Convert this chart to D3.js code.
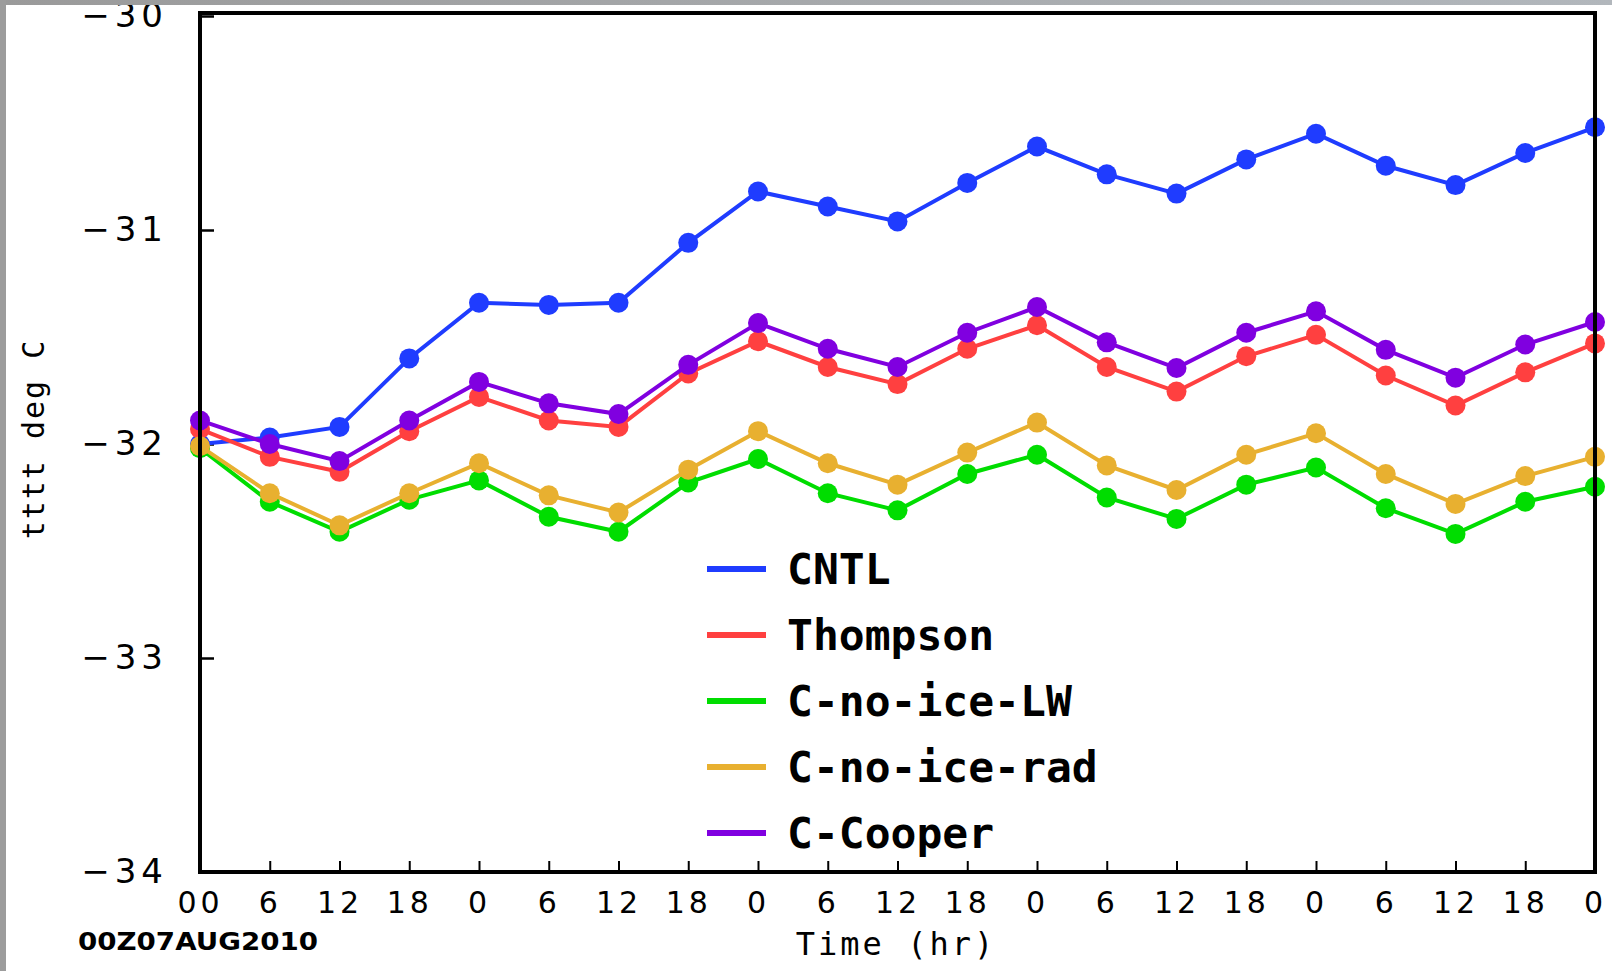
<!DOCTYPE html>
<html>
<head>
<meta charset="utf-8">
<script src="https://cdn.jsdelivr.net/npm/d3@7/dist/d3.min.js"></script>
<style>
  html, body { margin: 0; padding: 0; background: #fff; }
  svg { display: block; }
</style>
</head>
<body>
<svg id="chart" width="1612" height="971"></svg>
<script>
// ---- data ----
const xTickLabels = ["00","6","12","18","0","6","12","18","0","6","12","18","0","6","12","18","0","6","12","18","0"];
const hours = d3.range(0, 121, 6);
const yTicks = [-30, -31, -32, -33, -34];

const seriesNames = ["CNTL", "Thompson", "C-no-ice-LW", "C-no-ice-rad", "C-Cooper"];
const seriesColors = ["#1f3cff", "#ff4040", "#00dd00", "#e8b030", "#8000e0"];

const cntl = [-32.00, -31.97, -31.92, -31.60, -31.34, -31.35, -31.34, -31.06, -30.82, -30.89, -30.96,
              -30.78, -30.61, -30.74, -30.83, -30.67, -30.55, -30.70, -30.79, -30.64, -30.52];
const thompson = [-31.93, -32.06, -32.13, -31.94, -31.78, -31.89, -31.92, -31.67, -31.52, -31.64, -31.72,
                  -31.555, -31.445, -31.64, -31.755, -31.59, -31.49, -31.68, -31.82, -31.665, -31.53];
const noIceLW = [-32.02, -32.27, -32.41, -32.26, -32.17, -32.34, -32.41, -32.18, -32.07, -32.23, -32.31,
                 -32.14, -32.05, -32.25, -32.35, -32.19, -32.11, -32.30, -32.42, -32.27, -32.20];
const noIceRad = [-32.01, -32.23, -32.38, -32.23, -32.09, -32.24, -32.32, -32.12, -31.94, -32.09, -32.19,
                  -32.04, -31.90, -32.10, -32.215, -32.05, -31.95, -32.14, -32.28, -32.15, -32.06];
const cooper = [-31.89, -32.00, -32.08, -31.89, -31.71, -31.81, -31.86, -31.63, -31.435, -31.555, -31.64,
                -31.48, -31.36, -31.525, -31.645, -31.48, -31.38, -31.56, -31.69, -31.535, -31.43];
const seriesValues = [cntl, thompson, noIceLW, noIceRad, cooper];

const yLabel = "tttt deg C";
const xLabel = "Time (hr)";
const dateLabel = "00Z07AUG2010";

// ---- layout ----
const svg = d3.select("#chart");
const L = 200, R = 1595, T = 16, B = 872;

const x = d3.scaleLinear().domain([0, 120]).range([L, R]);
const y = d3.scaleLinear().domain([-34, -30]).range([B, T]);

const FONT = "'DejaVu Sans', sans-serif";
const MONO = "'DejaVu Sans Mono', monospace";

// x axis ticks (inward) and labels
const xAxis = d3.axisBottom(x).tickValues(hours).tickSize(-11).tickPadding(20)
  .tickFormat((d, i) => xTickLabels[i]);
const gx = svg.append("g").attr("transform", `translate(0,${B})`).call(xAxis);
gx.select(".domain").remove();
gx.selectAll(".tick line").attr("stroke", "#000").attr("stroke-width", 2);
gx.selectAll(".tick text").attr("font-family", FONT).attr("font-size", 30)
  .attr("fill", "#000").attr("letter-spacing", 4);

// y axis ticks (inward) and labels
const yAxis = d3.axisLeft(y).tickValues(yTicks).tickSize(-14).tickPadding(30)
  .tickFormat(d => "\u2212" + Math.abs(d));
const gy = svg.append("g").attr("transform", `translate(${L},0)`).call(yAxis);
gy.select(".domain").remove();
gy.selectAll(".tick line").attr("stroke", "#000").attr("stroke-width", 2.5);
gy.selectAll(".tick text").attr("font-family", FONT).attr("font-size", 34)
  .attr("fill", "#000").attr("letter-spacing", 5).attr("x", -32);

// lines and markers
const line = d3.line().x((d, i) => x(hours[i])).y(d => y(d));
seriesValues.forEach((vals, si) => {
  const g = svg.append("g");
  g.append("path").datum(vals).attr("d", line)
    .attr("fill", "none").attr("stroke", seriesColors[si]).attr("stroke-width", 4);
  g.selectAll("circle").data(vals).join("circle")
    .attr("cx", (d, i) => x(hours[i])).attr("cy", d => y(d)).attr("r", 10)
    .attr("fill", seriesColors[si]);
});

// frame
svg.append("rect").attr("x", L).attr("y", 13).attr("width", R - L).attr("height", B - 13)
  .attr("fill", "none").attr("stroke", "#000").attr("stroke-width", 4);

// legend
const legend = svg.append("g").attr("transform", "translate(707,569)");
seriesNames.forEach((name, i) => {
  const row = legend.append("g").attr("transform", `translate(0,${i * 66})`);
  row.append("line").attr("x1", 0).attr("x2", 59).attr("y1", 0).attr("y2", 0)
    .attr("stroke", seriesColors[i]).attr("stroke-width", 6);
  row.append("text").attr("x", 80).attr("y", 0).attr("dy", "0.35em")
    .attr("font-family", MONO).attr("font-weight", "bold").attr("font-size", 43)
    .attr("fill", "#000").text(name);
});

// axis titles
svg.append("text").attr("x", 896).attr("y", 944).attr("dy", "0.35em")
  .attr("text-anchor", "middle").attr("font-family", MONO).attr("font-size", 32)
  .attr("letter-spacing", 3).attr("fill", "#000").text(xLabel);
svg.append("text").attr("x", 78).attr("y", 942).attr("dy", "0.35em")
  .attr("font-family", FONT).attr("font-weight", "bold").attr("font-size", 24)
  .attr("fill", "#000").attr("textLength", 240).attr("lengthAdjust", "spacingAndGlyphs")
  .text(dateLabel);
svg.append("text").attr("transform", "translate(33,439) rotate(-90)")
  .attr("dy", "0.35em").attr("text-anchor", "middle").attr("font-family", MONO)
  .attr("font-size", 30).attr("letter-spacing", 2).attr("fill", "#000").text(yLabel);

// gray border (screenshot edge)
const grad = svg.append("defs").append("linearGradient").attr("id", "topg")
  .attr("x1", "0%").attr("x2", "100%");
grad.append("stop").attr("offset", "0%").attr("stop-color", "#9a9a9a");
grad.append("stop").attr("offset", "100%").attr("stop-color", "#b2b7bc");
svg.append("rect").attr("x", 0).attr("y", 0).attr("width", 1612).attr("height", 5).attr("fill", "url(#topg)");
svg.append("rect").attr("x", 0).attr("y", 0).attr("width", 6).attr("height", 971).attr("fill", "#9c9c9c");
</script>
</body>
</html>
